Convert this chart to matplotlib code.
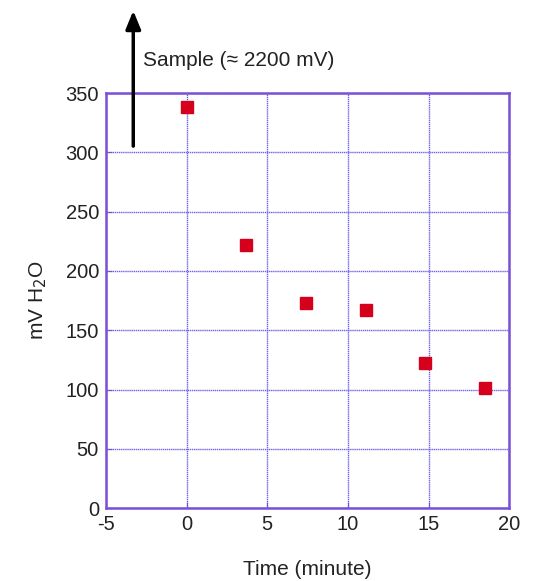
import matplotlib
matplotlib.use('Agg')
from matplotlib import pyplot as plt

plt.rcParams['font.family'] = ['Liberation Sans', 'DejaVu Sans']
plt.rcParams['axes.unicode_minus'] = False

# data
time_min = [0.0, 3.67, 7.4, 11.1, 14.8, 18.5]
mv_h2o = [338, 222, 173, 167, 122, 101]
xticks = [-5, 0, 5, 10, 15, 20]
yticks = [0, 50, 100, 150, 200, 250, 300, 350]

frame_col = '#7b4fd6'
grid_col = '#6f62e8'
text_col = '#222222'

fig = plt.figure(figsize=(5.4, 5.81), dpi=100)
ax = fig.add_axes([0.196, 0.1256, 0.747, 0.714])

ax.plot(time_min, mv_h2o, 's', color='#d4001c', markersize=9, zorder=3)

ax.set_xlim(-5, 20)
ax.set_ylim(0, 350)
ax.set_xticks(xticks)
ax.set_yticks(yticks)
ax.grid(True, color=grid_col, linestyle=(0, (1, 0.5)), linewidth=1.0)
for s in ax.spines.values():
    s.set_color(frame_col)
    s.set_linewidth(1.8)
ax.tick_params(direction='in', length=4, color=frame_col, labelsize=14.5,
               labelcolor=text_col, pad=5)

ax.set_xlabel('Time (minute)', fontsize=15, labelpad=19, color=text_col)
ax.set_ylabel('mV H$_2$O', fontsize=15, labelpad=12, color=text_col)

# arrow pointing off the chart for the sample reading
ax.annotate('', xy=(-3.3, 422), xytext=(-3.3, 303),
            arrowprops=dict(arrowstyle='-|>,head_length=1.1,head_width=0.45',
                            color='black', lw=2.5),
            annotation_clip=False)
ax.text(-2.7, 378, 'Sample (\u2248 2200 mV)', fontsize=15, color=text_col,
        va='center', clip_on=False)

plt.savefig('out.png', dpi=100)
